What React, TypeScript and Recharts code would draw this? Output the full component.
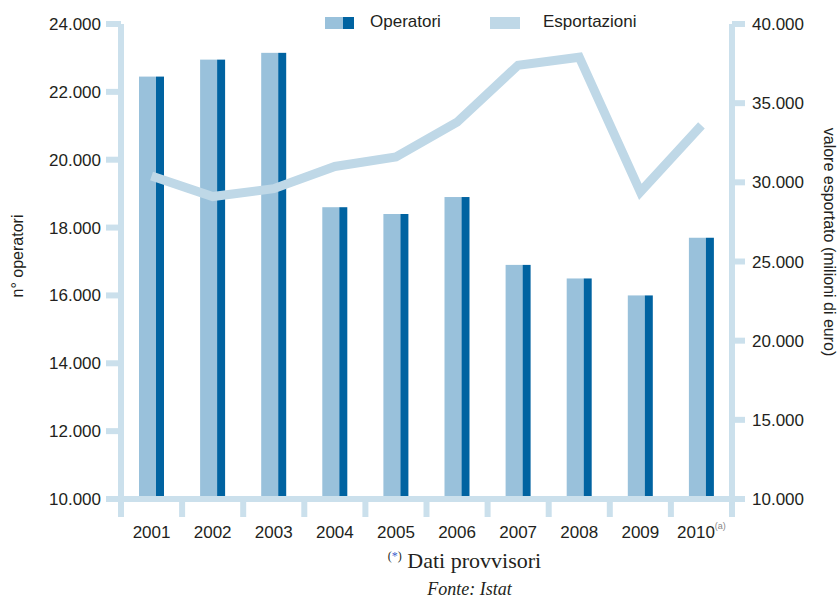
import React from "react";
import { ComposedChart, Bar, Line, XAxis, YAxis } from "recharts";

const years = ["2001", "2002", "2003", "2004", "2005", "2006", "2007", "2008", "2009", "2010"];
const operatori = [22450, 22950, 23150, 18600, 18400, 18900, 16900, 16500, 16000, 17700];
const esportazioni = [30400, 29100, 29600, 31000, 31600, 33800, 37400, 37900, 29400, 33600];
const leftTicks = [10000, 12000, 14000, 16000, 18000, 20000, 22000, 24000];
const rightTicks = [10000, 15000, 20000, 25000, 30000, 35000, 40000];

const data = years.map((year, i) => ({
  year,
  operatori: operatori[i],
  esportazioni: esportazioni[i],
}));

const LIGHT = "#99c1db";
const DARK = "#0063a1";
const AXIS = "#cbe0ec";
const LINE = "#bfd8e7";
const TEXT = "#231f20";
const SANS = "'Liberation Sans', Arial, sans-serif";
const SERIF = "'Liberation Serif', 'Times New Roman', serif";

const fmt = (v: number) => String(v).replace(/\B(?=(\d{3})+(?!\d))/g, ".");

function TwoToneBar(props: any) {
  const { x, y, width, height } = props;
  if (!height || height <= 0) return null;
  const lightW = Math.round(width * 0.68);
  return (
    <g>
      <rect x={x} y={y} width={lightW} height={height} fill={LIGHT} />
      <rect x={x + lightW} y={y} width={width - lightW} height={height} fill={DARK} />
    </g>
  );
}

function YearTick(props: any) {
  const { x, y, payload, index } = props;
  const half = payload?.offset || 30.55;
  const last = index === years.length - 1;
  return (
    <g>
      <line x1={x - half} x2={x - half} y1={y} y2={y + 18} stroke={AXIS} strokeWidth={6} />
      {last && <line x1={x + half} x2={x + half} y1={y} y2={y + 18} stroke={AXIS} strokeWidth={6} />}
      <text x={x} y={y + 39} textAnchor="middle" fill={TEXT} fontSize={17} fontFamily={SANS}>
        {payload.value}
        {last && (
          <tspan fontSize={9} fill="#888" dy={-9}>
            (a)
          </tspan>
        )}
      </text>
    </g>
  );
}

export default function App() {
  return (
    <div style={{ position: "fixed", left: 0, top: 0, width: 839, height: 601, background: "#fff" }}>
      <ComposedChart
        width={839}
        height={601}
        data={data}
        margin={{ top: 24, right: 0, bottom: 0, left: 0 }}
        barCategoryGap={0}
      >
        <XAxis
          dataKey="year"
          height={102}
          axisLine={{ stroke: AXIS, strokeWidth: 6 }}
          tickLine={false}
          tickSize={0}
          tickMargin={0}
          interval={0}
          tick={<YearTick />}
        />
        <YAxis
          yAxisId="left"
          orientation="left"
          width={121}
          domain={[10000, 24000]}
          ticks={leftTicks}
          tickFormatter={fmt}
          axisLine={{ stroke: AXIS, strokeWidth: 6 }}
          tickLine={{ stroke: AXIS, strokeWidth: 6 }}
          tickSize={15}
          tickMargin={5}
          tick={{ fill: TEXT, fontSize: 17, fontFamily: SANS }}
          allowDataOverflow
        />
        <YAxis
          yAxisId="right"
          orientation="right"
          width={107}
          domain={[10000, 40000]}
          ticks={rightTicks}
          tickFormatter={fmt}
          axisLine={{ stroke: AXIS, strokeWidth: 6 }}
          tickLine={{ stroke: AXIS, strokeWidth: 6 }}
          tickSize={13}
          tickMargin={7}
          tick={{ fill: TEXT, fontSize: 17, fontFamily: SANS }}
          allowDataOverflow
        />
        <Bar
          yAxisId="left"
          dataKey="operatori"
          barSize={25}
          shape={<TwoToneBar />}
          isAnimationActive={false}
        />
        <Line
          yAxisId="right"
          dataKey="esportazioni"
          type="linear"
          stroke={LINE}
          strokeWidth={9}
          dot={false}
          activeDot={false}
          strokeLinejoin="miter"
          isAnimationActive={false}
        />
      </ComposedChart>

      {/* legend */}
      <div style={{ position: "absolute", left: 325, top: 17, width: 18, height: 12, background: LIGHT }} />
      <div style={{ position: "absolute", left: 343, top: 17, width: 11, height: 12, background: DARK }} />
      <div style={{ position: "absolute", left: 370, top: 12, fontFamily: SANS, fontSize: 17, color: TEXT }}>
        Operatori
      </div>
      <div style={{ position: "absolute", left: 490, top: 17, width: 30, height: 12, background: LINE }} />
      <div style={{ position: "absolute", left: 543, top: 12, fontFamily: SANS, fontSize: 17, color: TEXT }}>
        Esportazioni
      </div>

      {/* axis titles */}
      <div
        style={{
          position: "absolute",
          left: 18,
          top: 256,
          transform: "translate(-50%, -50%) rotate(-90deg)",
          whiteSpace: "nowrap",
          fontFamily: SANS,
          fontSize: 16,
          color: TEXT,
        }}
      >
        n° operatori
      </div>
      <div
        style={{
          position: "absolute",
          left: 829,
          top: 242,
          transform: "translate(-50%, -50%) rotate(90deg)",
          whiteSpace: "nowrap",
          fontFamily: SANS,
          fontSize: 16,
          color: TEXT,
        }}
      >
        valore esportato (milioni di euro)
      </div>

      {/* notes */}
      <div
        style={{
          position: "absolute",
          left: 0,
          width: 839,
          top: 548,
          paddingLeft: 90,
          boxSizing: "border-box",
          textAlign: "center",
          fontFamily: SERIF,
          fontSize: 22,
          color: TEXT,
        }}
      >
        <span style={{ fontSize: 12, verticalAlign: "super" }}>
          (<span style={{ color: "#3a5fcd" }}>*</span>)
        </span>{" "}
        Dati provvisori
      </div>
      <div
        style={{
          position: "absolute",
          left: 0,
          width: 839,
          top: 579,
          paddingLeft: 100,
          boxSizing: "border-box",
          textAlign: "center",
          fontFamily: SERIF,
          fontStyle: "italic",
          fontSize: 18,
          color: TEXT,
        }}
      >
        Fonte: Istat
      </div>
    </div>
  );
}
